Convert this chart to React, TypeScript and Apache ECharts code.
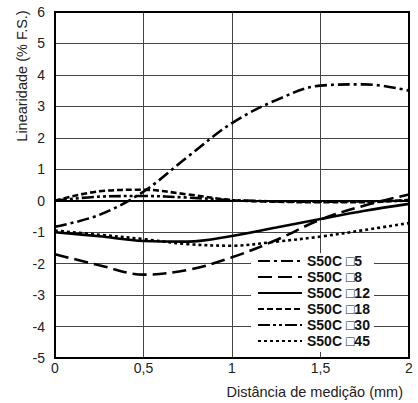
import React, { useEffect, useRef } from "react";
import * as echarts from "echarts";

// Measurement distance (mm)
const distances = [0, 0.25, 0.5, 0.75, 1, 1.25, 1.5, 1.75, 2];

// Linearity (% F.S.) per target size
const s5 = [-0.83, -0.45, 0.29, 1.4, 2.47, 3.2, 3.66, 3.7, 3.5];
const s8 = [-1.7, -2.05, -2.35, -2.2, -1.8, -1.25, -0.6, -0.15, 0.2];
const s12 = [-1.0, -1.13, -1.28, -1.3, -1.12, -0.85, -0.58, -0.32, -0.1];
const s18 = [0, 0.3, 0.35, 0.2, 0.02, -0.03, -0.05, -0.05, 0.03];
const s30 = [0, 0.13, 0.15, 0.1, 0.02, -0.02, -0.03, -0.02, 0];
const s45 = [-0.95, -1.08, -1.22, -1.38, -1.43, -1.3, -1.14, -0.93, -0.71];

const seriesNames = ["S50C □5", "S50C □8", "S50C □12", "S50C □18", "S50C □30", "S50C □45"];

const FONT = "'Liberation Sans', Arial, Helvetica, sans-serif";

export default function App() {
  const ref = useRef<HTMLDivElement>(null);

  useEffect(() => {
    if (!ref.current) return;
    const chart = echarts.init(ref.current, null, { renderer: "svg" });

    const values = [s5, s8, s12, s18, s30, s45];
    const dashes: (number[] | "solid")[] = [
      [12, 4, 3, 4],
      [14, 6],
      "solid",
      [6, 3],
      [12, 3, 3, 3, 3, 3],
      [3, 3],
    ];

    const series = values.map((vals, i) => ({
      name: seriesNames[i],
      type: "line",
      smooth: 0.35,
      showSymbol: false,
      symbol: "none",
      data: distances.map((d, j) => [d, vals[j]]),
      lineStyle: { color: "#000", width: 2.6, type: dashes[i] },
      itemStyle: { color: "#000" },
      z: 3,
    }));

    chart.setOption({
      animation: false,
      backgroundColor: "#fff",
      textStyle: { fontFamily: FONT },
      grid: {
        left: 55,
        right: 9,
        top: 12,
        bottom: 45,
        show: true,
        borderColor: "#000",
        borderWidth: 2,
        z: 4,
      },
      legend: {
        data: seriesNames,
        orient: "vertical",
        left: 251,
        top: 253,
        itemWidth: 44,
        itemHeight: 14,
        itemGap: 2,
        padding: [1, 4, 4, 6],
        backgroundColor: "#fff",
        itemStyle: { opacity: 0 },
        textStyle: {
          fontFamily: FONT,
          fontWeight: "bold",
          fontSize: 14,
          color: "#111",
        },
        z: 10,
      },
      xAxis: {
        type: "value",
        min: 0,
        max: 2,
        interval: 0.5,
        axisLine: { show: true, lineStyle: { color: "#000", width: 2 } },
        axisTick: { show: false },
        splitLine: { show: true, lineStyle: { color: "#444", width: 1 } },
        axisLabel: {
          color: "#222",
          fontSize: 14,
          fontFamily: FONT,
          margin: 3,
          formatter: (v: number) => String(v).replace(".", ","),
        },
      },
      yAxis: {
        type: "value",
        min: -5,
        max: 6,
        interval: 1,
        axisLine: { show: true, lineStyle: { color: "#000", width: 2 } },
        axisTick: { show: false },
        splitLine: { show: true, lineStyle: { color: "#444", width: 1 } },
        axisLabel: { color: "#222", fontSize: 14, fontFamily: FONT, margin: 10 },
      },
      graphic: [
        {
          type: "text",
          x: 22,
          y: 76,
          rotation: Math.PI / 2,
          style: {
            text: "Linearidade (% F.S.)",
            font: `14.5px ${FONT}`,
            fill: "#222",
            textAlign: "center",
            textVerticalAlign: "middle",
          },
        },
        {
          type: "text",
          x: 403,
          y: 392,
          style: {
            text: "Distância de medição (mm)",
            font: `14.5px ${FONT}`,
            fill: "#222",
            textAlign: "right",
            textVerticalAlign: "middle",
          },
        },
      ],
      series,
    });

    return () => chart.dispose();
  }, []);

  return (
    <div
      ref={ref}
      style={{ position: "fixed", left: 0, top: 0, width: 418, height: 403 }}
    />
  );
}
